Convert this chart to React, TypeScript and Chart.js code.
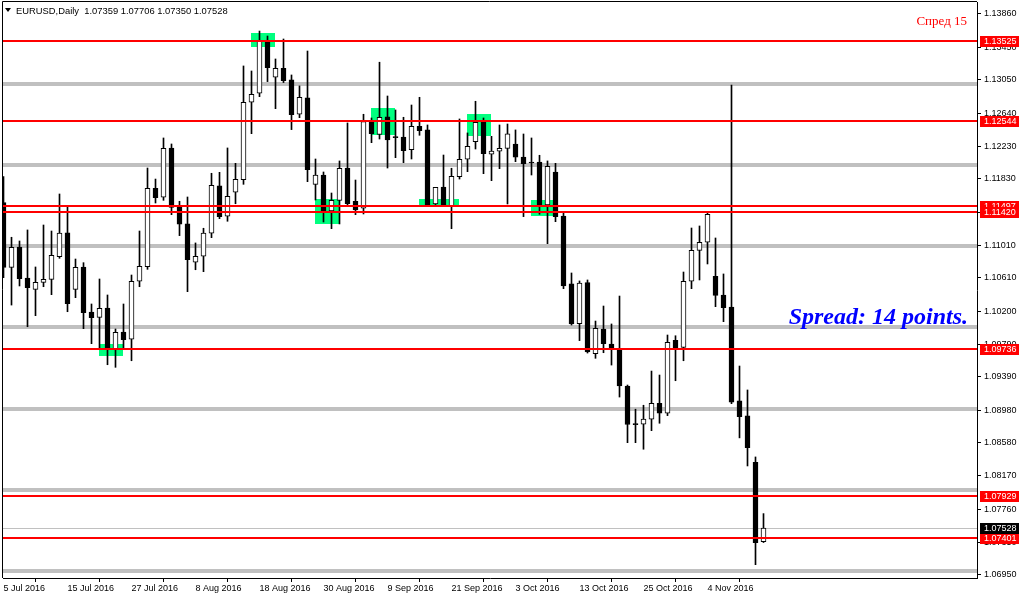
import React, { useEffect, useRef } from 'react';
import { Chart, registerables } from 'chart.js';

Chart.register(...registerables);

// ---- Data (EURUSD daily candles, 5 Jul 2016 .. 15 Nov 2016) ----
const opens = [
  1.11536, 1.10740, 1.10990, 1.10608, 1.10469, 1.10555, 1.10592, 1.10871, 1.11164, 1.10469,
  1.10744, 1.10189, 1.10124, 1.10238, 1.09733, 1.09943, 1.09854, 1.10568, 1.10748, 1.11713,
  1.11603, 1.12210, 1.11487, 1.11274, 1.10802, 1.10876, 1.11160, 1.11742, 1.11369, 1.11664,
  1.11819, 1.12773, 1.12884, 1.13515, 1.13081, 1.13192, 1.13048, 1.12625, 1.12826, 1.11762,
  1.11877, 1.11434, 1.11565, 1.11963, 1.11553, 1.11467, 1.12534, 1.12376, 1.12592, 1.12341,
  1.12345, 1.12189, 1.12477, 1.12432, 1.11520, 1.11729, 1.11495, 1.11856, 1.12071, 1.12287,
  1.12539, 1.12132, 1.12169, 1.12204, 1.12259, 1.12099, 1.12031, 1.12037, 1.11507, 1.11914,
  1.11372, 1.10535, 1.10045, 1.10551, 1.09676, 1.09980, 1.09795, 1.09730, 1.09278, 1.08807,
  1.08807, 1.08869, 1.09065, 1.08942, 1.09841, 1.09754, 1.10568, 1.10949, 1.11048, 1.10630,
  1.10399, 1.10251, 1.09094, 1.08909, 1.08338, 1.07359,
];
const highs = [
  1.11856, 1.11110, 1.11064, 1.11200, 1.10744, 1.11261, 1.11187, 1.11643, 1.11487, 1.10842,
  1.10797, 1.10288, 1.10596, 1.10399, 1.09980, 1.10288, 1.10645, 1.11187, 1.11963, 1.11827,
  1.12333, 1.12259, 1.11553, 1.11606, 1.11040, 1.11221, 1.11898, 1.11910, 1.12210, 1.12021,
  1.13220, 1.13158, 1.13650, 1.13589, 1.13306, 1.13552, 1.13109, 1.12974, 1.13404, 1.12074,
  1.11914, 1.11655, 1.12050, 1.12518, 1.11815, 1.12625, 1.12579, 1.13266, 1.12850, 1.12678,
  1.12588, 1.12739, 1.12834, 1.12493, 1.11725, 1.12123, 1.11960, 1.12567, 1.12395, 1.12785,
  1.12579, 1.12353, 1.12493, 1.12505, 1.12432, 1.12382, 1.12333, 1.12120, 1.12050, 1.12021,
  1.11421, 1.10670, 1.10572, 1.10584, 1.10078, 1.10263, 1.10042, 1.10386, 1.09290, 1.08992,
  1.09041, 1.09462, 1.09413, 1.09906, 1.09897, 1.10682, 1.11224, 1.11249, 1.11405, 1.11101,
  1.10658, 1.12986, 1.09524, 1.09229, 1.08404, 1.07706,
];
const lows = [
  1.10612, 1.10275, 1.10510, 1.10008, 1.10144, 1.10501, 1.10403, 1.10851, 1.10193, 1.10366,
  1.09984, 1.09799, 1.09733, 1.09540, 1.09508, 1.09733, 1.09589, 1.10501, 1.10715, 1.11532,
  1.11565, 1.11388, 1.11130, 1.10440, 1.10710, 1.10686, 1.11105, 1.11339, 1.11307, 1.11523,
  1.11762, 1.12386, 1.12842, 1.13027, 1.12694, 1.13015, 1.12436, 1.12583, 1.11795, 1.11569,
  1.11298, 1.11216, 1.11274, 1.11499, 1.11388, 1.11397, 1.12275, 1.12320, 1.11963, 1.12090,
  1.12029, 1.12074, 1.12366, 1.11495, 1.11499, 1.11495, 1.11216, 1.11827, 1.11918, 1.12197,
  1.11893, 1.11807, 1.11955, 1.11520, 1.12041, 1.11364, 1.11877, 1.11393, 1.11031, 1.11302,
  1.10477, 1.10029, 1.09837, 1.09684, 1.09619, 1.09688, 1.09536, 1.09142, 1.08580, 1.08580,
  1.08499, 1.08728, 1.08819, 1.08913, 1.09343, 1.09589, 1.10477, 1.10584, 1.10781, 1.10255,
  1.10070, 1.09060, 1.08639, 1.08293, 1.07077, 1.07350,
];
const closes = [
  1.10740, 1.10987, 1.10600, 1.10489, 1.10555, 1.10592, 1.10888, 1.11160, 1.10291, 1.10740,
  1.10181, 1.10119, 1.10235, 1.09733, 1.09939, 1.09849, 1.10568, 1.10753, 1.11713, 1.11598,
  1.12206, 1.11479, 1.11270, 1.10834, 1.10876, 1.11160, 1.11751, 1.11364, 1.11615, 1.11824,
  1.12773, 1.12872, 1.13527, 1.13199, 1.13192, 1.13039, 1.12620, 1.12835, 1.11943, 1.11877,
  1.11434, 1.11565, 1.11960, 1.11523, 1.11446, 1.12534, 1.12386, 1.12588, 1.12308, 1.12337,
  1.12176, 1.12477, 1.12423, 1.11504, 1.11725, 1.11504, 1.11861, 1.12071, 1.12230, 1.12526,
  1.12139, 1.12173, 1.12206, 1.12385, 1.12095, 1.12017, 1.12025, 1.11507, 1.11985, 1.11364,
  1.10510, 1.10042, 1.10547, 1.09697, 1.09988, 1.09799, 1.09746, 1.09278, 1.08804, 1.08803,
  1.08869, 1.09065, 1.08942, 1.09816, 1.09741, 1.10568, 1.10949, 1.11048, 1.11393, 1.10394,
  1.10242, 1.09078, 1.08900, 1.08518, 1.07348, 1.07528,
];

const xTickIndex = [0, 8, 16, 24, 32, 40, 48, 56, 64, 72, 80, 88];
const xTickLabels = [
  '5 Jul 2016', '15 Jul 2016', '27 Jul 2016', '8 Aug 2016', '18 Aug 2016', '30 Aug 2016',
  '9 Sep 2016', '21 Sep 2016', '3 Oct 2016', '13 Oct 2016', '25 Oct 2016', '4 Nov 2016',
];
const yTickValues = [
  1.13860, 1.13450, 1.13050, 1.12640, 1.12230, 1.11830, 1.11420, 1.11010, 1.10610,
  1.10200, 1.09790, 1.09390, 1.08980, 1.08580, 1.08170, 1.07760, 1.07350, 1.06950,
];
const redLevels = [1.13525, 1.12544, 1.11497, 1.11420, 1.09736, 1.07929, 1.07401];
const greyLevels = [1.13, 1.12, 1.11, 1.10, 1.09, 1.08, 1.07];
const bidPrice = 1.07528;
const zoneStart = [12, 31, 39, 46, 52, 58, 66];
const zoneEnd = [15, 34, 42, 49, 57, 61, 69];
const zoneHigh = [1.09795, 1.13626, 1.11581, 1.12702, 1.11581, 1.12629, 1.11569];
const zoneLow = [1.09647, 1.13453, 1.11274, 1.12370, 1.11483, 1.12358, 1.11372];

const headerText = 'EURUSD,Daily  1.07359 1.07706 1.07350 1.07528';
const spreadRu = 'Спред 15';
const spreadEn = 'Spread: 14 points.';

const Y_MIN = 1.06913;
const Y_MAX = 1.140078;
const AXIS_FAMILY = "'Liberation Sans', Arial, sans-serif";
const AXIS_FONT = `9px ${AXIS_FAMILY}`;

const overlayPlugin = {
  id: 'mt4overlay',
  beforeDatasetsDraw(chart: any) {
    const { ctx, chartArea: a, scales } = chart;
    const x = scales.x;
    const y = scales.y;
    ctx.save();
    ctx.beginPath();
    ctx.rect(a.left, a.top, a.right - a.left, a.bottom - a.top);
    ctx.clip();
    ctx.fillStyle = '#c0c0c0';
    greyLevels.forEach((v) => {
      const py = Math.round(y.getPixelForValue(v));
      ctx.fillRect(a.left, py - 2, a.right - a.left, 4);
    });
    const by = Math.round(y.getPixelForValue(bidPrice)) + 0.5;
    ctx.strokeStyle = '#c0c0c0';
    ctx.lineWidth = 1;
    ctx.beginPath();
    ctx.moveTo(a.left, by);
    ctx.lineTo(a.right, by);
    ctx.stroke();
    ctx.fillStyle = '#00ff7f';
    zoneStart.forEach((s, k) => {
      const x1 = Math.round(x.getPixelForValue(s) - 0.5);
      const x2 = Math.round(x.getPixelForValue(zoneEnd[k]) - 0.5);
      const y1 = Math.round(y.getPixelForValue(zoneHigh[k]));
      const y2 = Math.round(y.getPixelForValue(zoneLow[k]));
      ctx.fillRect(x1, y1, x2 - x1, y2 - y1);
    });
    ctx.restore();
  },
  afterDatasetsDraw(chart: any) {
    const { ctx, chartArea: a, scales } = chart;
    const y = scales.y;
    ctx.save();
    ctx.fillStyle = '#ff0000';
    redLevels.forEach((v) => {
      const py = Math.round(y.getPixelForValue(v));
      ctx.fillRect(a.left, py - 1, a.right - a.left, 2);
    });
    ctx.restore();
  },
  afterDraw(chart: any) {
    const { ctx, chartArea: a, scales } = chart;
    const y = scales.y;
    ctx.save();
    // frame (left & top)
    ctx.strokeStyle = '#000';
    ctx.lineWidth = 1;
    ctx.beginPath();
    ctx.moveTo(a.left - 0.5, a.bottom);
    ctx.lineTo(a.left - 0.5, a.top - 0.5);
    ctx.lineTo(a.right, a.top - 0.5);
    ctx.stroke();

    // price labels on the right axis
    ctx.font = AXIS_FONT;
    ctx.textBaseline = 'middle';
    ctx.textAlign = 'left';
    const boxes = redLevels.map((v) => ({ v, bg: '#ff0000' }));
    boxes.push({ v: bidPrice, bg: '#000000' });
    boxes.forEach(({ v, bg }) => {
      const py = Math.round(y.getPixelForValue(v));
      ctx.fillStyle = bg;
      ctx.fillRect(a.right + 3, py - 5, 39, 11);
      ctx.fillStyle = '#ffffff';
      ctx.fillText(v.toFixed(5), a.right + 7, py + 0.5);
    });

    // header
    ctx.fillStyle = '#000';
    ctx.beginPath();
    ctx.moveTo(5, 8);
    ctx.lineTo(11, 8);
    ctx.lineTo(8, 12);
    ctx.closePath();
    ctx.fill();
    ctx.font = `9.4px ${AXIS_FAMILY}`;
    ctx.textBaseline = 'middle';
    ctx.fillText(headerText, 16, 11);

    // spread texts
    ctx.textAlign = 'right';
    ctx.textBaseline = 'alphabetic';
    ctx.fillStyle = '#ff0000';
    ctx.font = "13px 'Liberation Serif', 'Times New Roman', serif";
    ctx.fillText(spreadRu, 967, 25);
    ctx.fillStyle = '#0000ff';
    ctx.font = "italic bold 24px 'Liberation Serif', 'Times New Roman', serif";
    ctx.fillText(spreadEn, 968, 324);
    ctx.restore();
  },
};

export default function App() {
  const ref = useRef<HTMLCanvasElement | null>(null);
  useEffect(() => {
    document.body.style.margin = '0';
    const canvas = ref.current;
    if (!canvas) return;
    const idx = opens.map((_, i) => i);
    const bull = idx.map((i) => closes[i] >= opens[i]);
    const chart = new Chart(canvas, {
      type: 'bar',
      data: {
        datasets: [
          {
            label: 'body',
            data: idx.map((i) => ({ x: i, y: [opens[i], closes[i]] })) as any,
            backgroundColor: bull.map((b) => (b ? '#ffffff' : '#000000')),
            borderColor: '#000000',
            borderWidth: 1,
            borderSkipped: false,
            barThickness: 5,
            minBarLength: 1,
            grouped: false,
          } as any,
          {
            label: 'wick',
            data: idx.map((i) => ({ x: i, y: [lows[i], highs[i]] })) as any,
            backgroundColor: '#000000',
            borderWidth: 0,
            barThickness: 1,
            grouped: false,
          } as any,
        ],
      },
      options: {
        responsive: false,
        animation: false,
        events: [],
        layout: { padding: { left: 3, top: 2, right: 0, bottom: 0 } },
        plugins: {
          legend: { display: false },
          tooltip: { enabled: false },
          title: { display: false },
        },
        scales: {
          x: {
            type: 'linear',
            min: -0.0625,
            max: 121.6875,
            offset: false,
            grid: { display: true, drawOnChartArea: false, drawTicks: true, tickLength: 4, color: '#000' },
            border: { display: true, color: '#000' },
            ticks: {
              autoSkip: false,
              maxRotation: 0,
              minRotation: 0,
              align: 'start',
              padding: 1,
              color: '#000',
              font: { family: AXIS_FAMILY, size: 9 },
              callback: (v: any) => {
                const k = xTickIndex.indexOf(Number(v));
                return k >= 0 ? xTickLabels[k] : '';
              },
            },
            afterBuildTicks: (s: any) => {
              s.ticks = xTickIndex.map((v) => ({ value: v }));
            },
            afterFit: (s: any) => {
              s.height = 21;
              s.paddingLeft = 0;
              s.paddingRight = 0;
            },
          } as any,
          y: {
            type: 'linear',
            position: 'right',
            min: Y_MIN,
            max: Y_MAX,
            grid: { display: true, drawOnChartArea: false, drawTicks: true, tickLength: 4, color: '#000' },
            border: { display: true, color: '#000' },
            ticks: {
              autoSkip: false,
              padding: 3,
              color: '#000',
              font: { family: AXIS_FAMILY, size: 9 },
              callback: (v: any) => Number(v).toFixed(5),
            },
            afterBuildTicks: (s: any) => {
              s.ticks = yTickValues.map((v) => ({ value: v }));
            },
            afterFit: (s: any) => {
              s.width = 43;
              s.paddingTop = 0;
              s.paddingBottom = 0;
            },
          } as any,
        },
      },
      plugins: [overlayPlugin],
    });
    return () => chart.destroy();
  }, []);
  return (
    <div style={{ position: 'absolute', left: 0, top: 0, width: 1020, height: 599, background: '#fff' }}>
      <canvas ref={ref} width={1020} height={599} style={{ display: 'block' }} />
    </div>
  );
}
